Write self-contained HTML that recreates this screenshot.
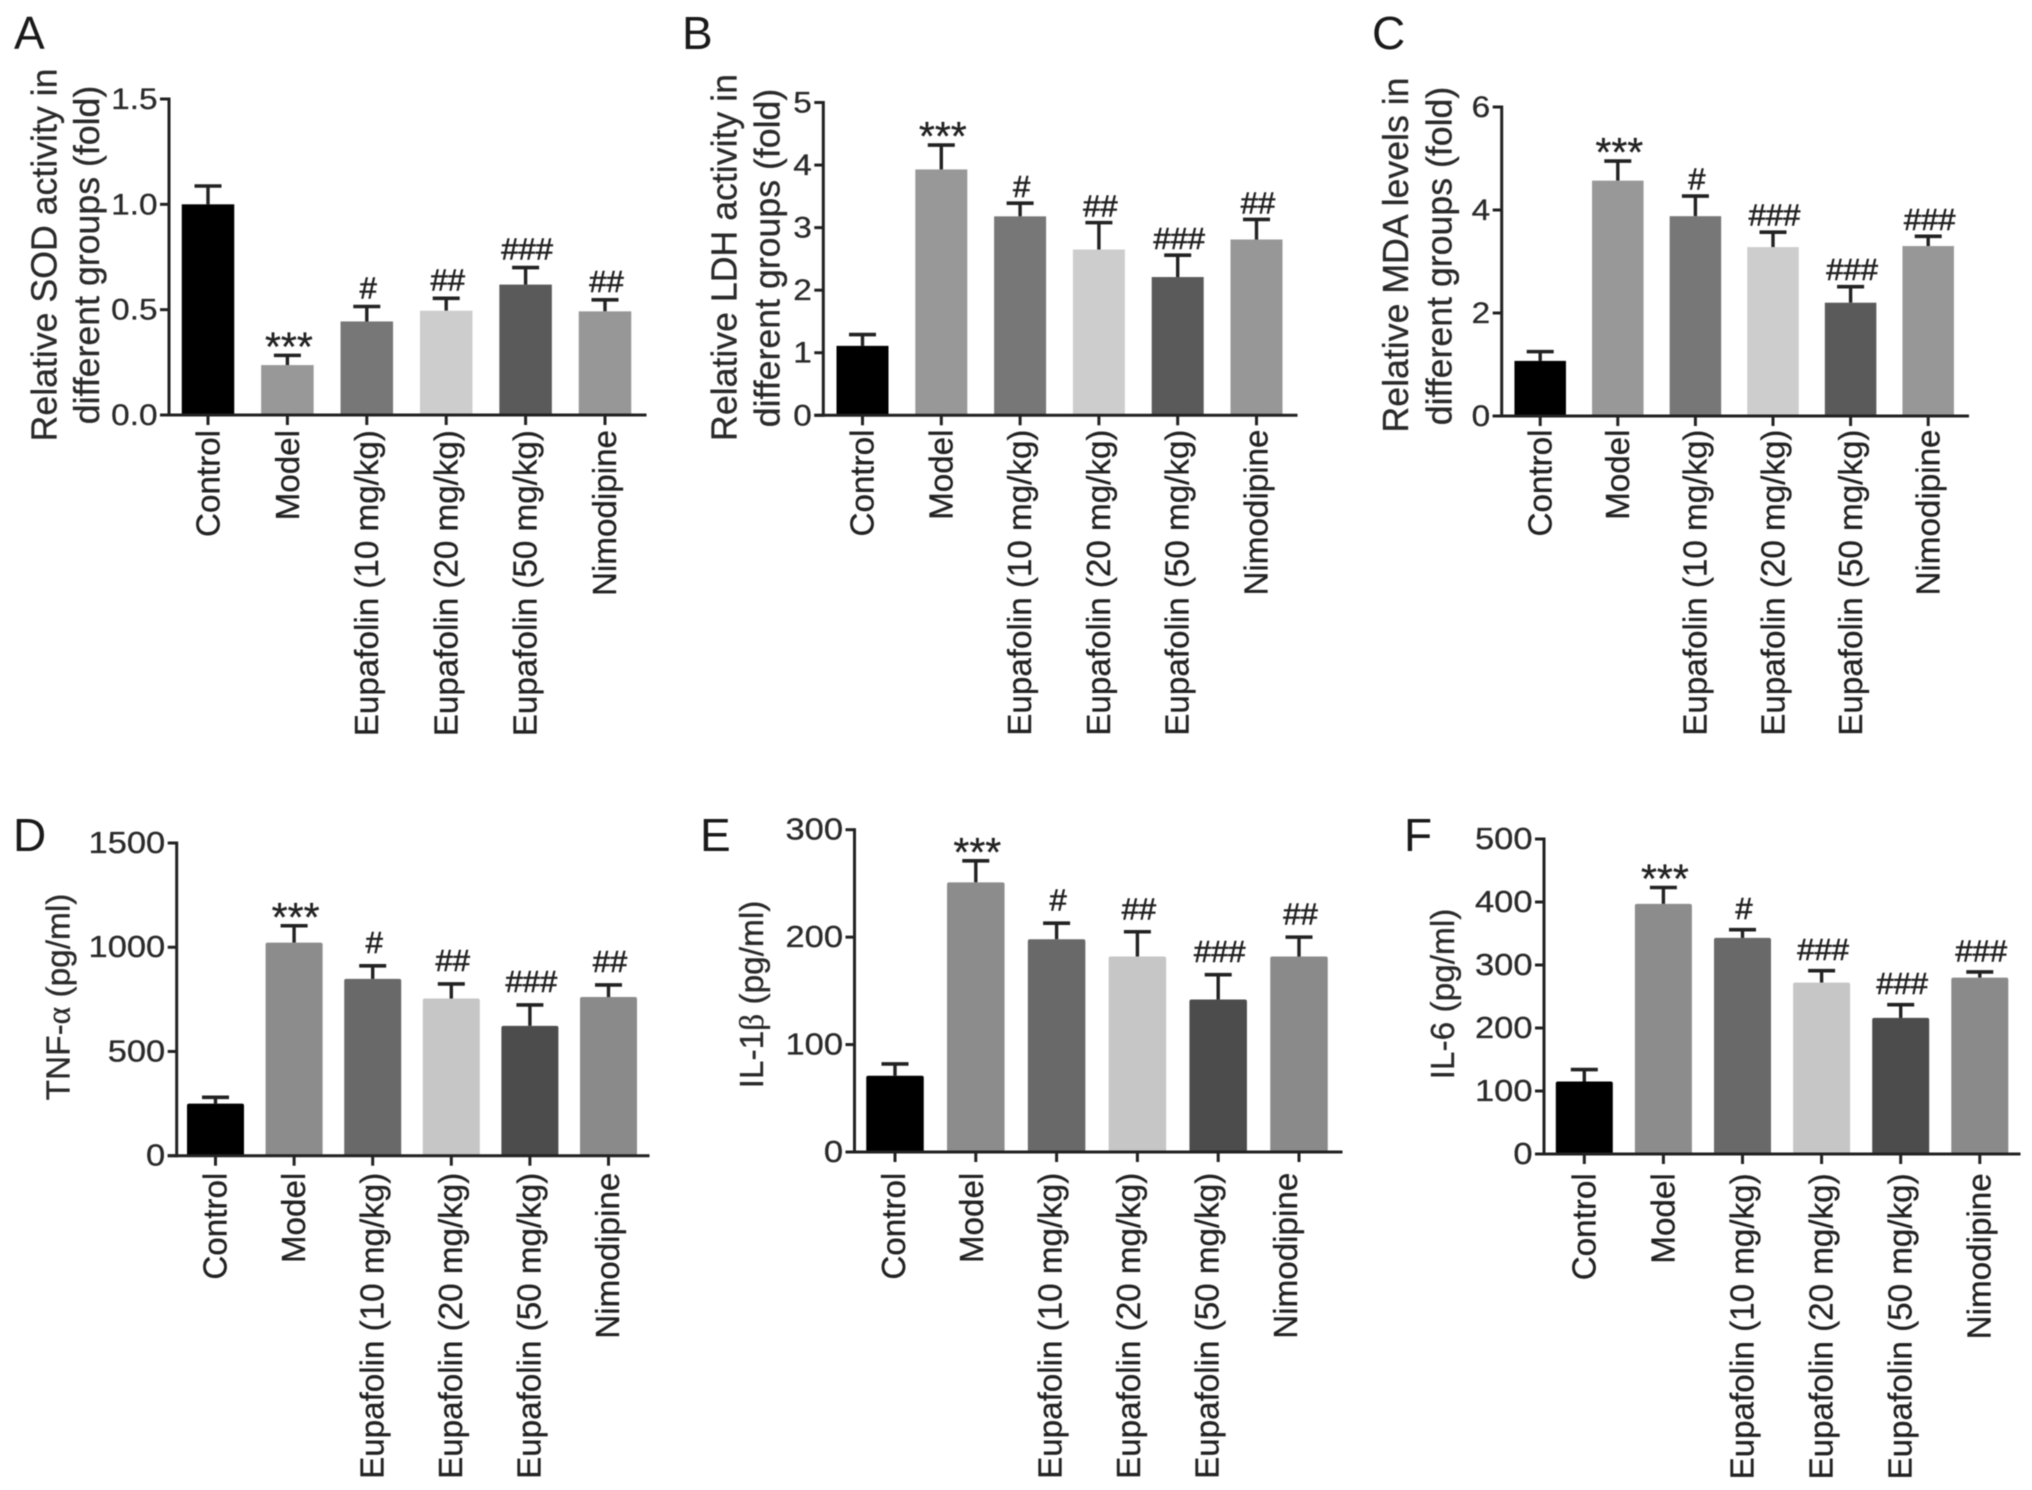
<!DOCTYPE html>
<html lang="en">
<head>
<meta charset="utf-8">
<title>Eupafolin group comparison bar charts</title>
<style>
  html, body { margin: 0; padding: 0; background: #fff; }
  svg { display: block; font-family: "Liberation Sans", Arial, sans-serif; filter: blur(0.55px); }
  .panel-letter { font-size: 46px; fill: #1a1a1a; }
  .y-title { font-size: 35.7px; fill: #2a2a2a; stroke: #2a2a2a; stroke-width: 0.3px; }
  .y-title-small { font-size: 33.4px; fill: #2a2a2a; stroke: #2a2a2a; stroke-width: 0.3px; }
  .tick-label { fill: #2a2a2a; stroke: #2a2a2a; stroke-width: 0.3px; text-anchor: end; }
  .cat-label { font-size: 33.2px; fill: #222; stroke: #222; stroke-width: 0.3px; text-anchor: end; }
  .sig-hash { font-size: 31px; fill: #222; stroke: #222; stroke-width: 0.6px; text-anchor: middle; }
  .sig-star { font-size: 41px; fill: #222; stroke: #222; stroke-width: 0.3px; text-anchor: middle; }
</style>
</head>
<body>
<svg id="figure" width="2032" height="1490" viewBox="0 0 2032 1490" xmlns="http://www.w3.org/2000/svg">
  <rect width="2032" height="1490" fill="#fff"/>

  <g id="panelA">
    <text class="panel-letter" x="14" y="49">A</text>
    <text class="y-title" transform="translate(56.5,255) rotate(-90)" text-anchor="middle">Relative SOD activity in</text>
    <text class="y-title" transform="translate(99,255) rotate(-90)" text-anchor="middle">different groups (fold)</text>
  </g>

  <g id="panelB">
    <text class="panel-letter" x="682" y="49">B</text>
    <text class="y-title" transform="translate(736.5,257.5) rotate(-90)" text-anchor="middle">Relative LDH activity in</text>
    <text class="y-title" transform="translate(779.5,258) rotate(-90)" text-anchor="middle">different groups (fold)</text>
  </g>

  <g id="panelC">
    <text class="panel-letter" x="1372" y="49">C</text>
    <text class="y-title" transform="translate(1408,255) rotate(-90)" text-anchor="middle">Relative MDA levels in</text>
    <text class="y-title" transform="translate(1451.5,256) rotate(-90)" text-anchor="middle">different groups (fold)</text>
  </g>

  <g id="panelD">
    <text class="panel-letter" x="13" y="851">D</text>
    <text class="y-title-small" transform="translate(69.5,997) rotate(-90)" text-anchor="middle">TNF-<tspan font-family="'Liberation Serif', serif">α</tspan> (pg/ml)</text>
  </g>

  <g id="panelE">
    <text class="panel-letter" x="700" y="851">E</text>
    <text class="y-title-small" transform="translate(763,994.5) rotate(-90)" text-anchor="middle">IL-1<tspan font-family="'Liberation Serif', serif">β</tspan> (pg/ml)</text>
  </g>

  <g id="panelF">
    <text class="panel-letter" x="1404" y="851">F</text>
    <text class="y-title-small" transform="translate(1454,994) rotate(-90)" text-anchor="middle">IL-6 (pg/ml)</text>
  </g>
</svg>

<script>
// ---- chart data ----
const categories = ['Control', 'Model', 'Eupafolin (10 mg/kg)', 'Eupafolin (20 mg/kg)', 'Eupafolin (50 mg/kg)', 'Nimodipine'];

const sodValues = [1.0, 0.237, 0.444, 0.495, 0.619, 0.492];
const sodErrors = [0.087, 0.046, 0.071, 0.059, 0.081, 0.055];
const sodTicks = ['0.0', '0.5', '1.0', '1.5'];
const sodMarks = ['', '***', '#', '##', '###', '##'];

const ldhValues = [1.11, 3.93, 3.18, 2.65, 2.21, 2.81];
const ldhErrors = [0.18, 0.39, 0.21, 0.43, 0.35, 0.32];
const ldhTicks = ['0', '1', '2', '3', '4', '5'];
const ldhMarks = ['', '***', '#', '##', '###', '##'];

const mdaValues = [1.07, 4.57, 3.88, 3.28, 2.2, 3.3];
const mdaErrors = [0.18, 0.38, 0.39, 0.29, 0.31, 0.19];
const mdaTicks = ['0', '2', '4', '6'];
const mdaMarks = ['', '***', '#', '###', '###', '###'];

const tnfValues = [250, 1022, 848, 754, 623, 761];
const tnfErrors = [30, 81, 63, 70, 100, 58];
const tnfTicks = ['0', '500', '1000', '1500'];
const tnfMarks = ['', '***', '#', '##', '###', '##'];

const il1bValues = [71, 251, 198, 182, 142, 182];
const il1bErrors = [11, 20, 15, 23, 23, 18];
const il1bTicks = ['0', '100', '200', '300'];
const il1bMarks = ['', '***', '#', '##', '###', '##'];

const il6Values = [115, 397, 343, 272, 216, 280];
const il6Errors = [19, 26, 13, 19, 21, 9];
const il6Ticks = ['0', '100', '200', '300', '400', '500'];
const il6Marks = ['', '***', '#', '###', '###', '###'];

// ---- styling shared per row ----
const topRowFills = ['#000000', '#989898', '#777777', '#cdcdcd', '#5a5a5a', '#979797'];
const bottomRowFills = ['#000000', '#8c8c8c', '#696969', '#c6c6c6', '#4c4c4c', '#8a8a8a'];
const INK = '#222222';
const SVG_NS = 'http://www.w3.org/2000/svg';

function shape(parent, tag, attrs, text) {
  const el = document.createElementNS(SVG_NS, tag);
  for (const k in attrs) el.setAttribute(k, attrs[k]);
  if (text !== undefined) el.textContent = text;
  parent.appendChild(el);
  return el;
}

function drawPanel(groupId, frame, fills, values, errors, ticks, marks) {
  const group = document.getElementById(groupId);
  const maxTick = Math.max.apply(null, ticks.map(Number));

  // axis functions
  const yScale = function (v) { return frame.bottom - (v / maxTick) * (frame.bottom - frame.top); };
  const xScale = function (i) { return frame.firstCenter + i * frame.pitch; };
  const labelScale = function (i) { return frame.labelFirst + i * frame.labelPitch; };

  values.forEach(function (value, i) {
    const cx = xScale(i);
    const top = yScale(value);
    const errTop = yScale(value + errors[i]);

    const stem = shape(group, 'line', { x1: cx, x2: cx, y1: top, y2: errTop, stroke: INK, 'stroke-width': 3.4 });
    
    

    const cap = shape(group, 'line', { x1: cx - 13.5, x2: cx + 13.5, y1: errTop, y2: errTop, stroke: INK, 'stroke-width': 3.6 });
    
    

    const bar = shape(group, 'rect', { x: cx - frame.barWidth / 2, y: top, width: frame.barWidth, height: frame.bottom - top, fill: fills[i], rx: frame.barRadius });
    
    

    if (marks[i]) {
      const isStar = marks[i].charAt(0) === '*';
      const markY = isStar ? errTop + 5 : errTop - frame.hashGap;
      const mark = shape(group, 'text', { x: cx + 1.5, y: markY, class: isStar ? 'sig-star' : 'sig-hash' }, marks[i]);
      
      
    }

    const xTick = shape(group, 'line', { x1: cx, x2: cx, y1: frame.bottom, y2: frame.bottom + 10, stroke: INK, 'stroke-width': 3 });
    
    

    const baseX = labelScale(i) + 11.5;
    const label = shape(group, 'text', { class: 'cat-label', transform: 'translate(' + baseX + ',' + frame.labelTop + ') rotate(-90)' }, categories[i]);
    
    
  });

  const yAxis = shape(group, 'line', { x1: frame.axisX, x2: frame.axisX, y1: frame.top - 1.5, y2: frame.bottom + 1.5, stroke: INK, 'stroke-width': 3 });
  
  

  const xAxis = shape(group, 'line', { x1: frame.axisX - 9, x2: frame.right, y1: frame.bottom, y2: frame.bottom, stroke: INK, 'stroke-width': 3 });
  
  

  ticks.forEach(function (tick) {
    const ty = yScale(Number(tick));
    const yTick = shape(group, 'line', { x1: frame.axisX - 9, x2: frame.axisX, y1: ty, y2: ty, stroke: INK, 'stroke-width': 3 });
    
    

    const tickLabel = shape(group, 'text', { class: 'tick-label', 'font-size': frame.tickFont, transform: 'translate(' + (frame.axisX - 11.5) + ',' + (ty + 10) + ') scale(1.13,1)' }, tick);
    
    
  });
}

drawPanel('panelA', { axisX: 169, top: 99, bottom: 415, right: 646.5, firstCenter: 208, pitch: 79.4, labelFirst: 208, labelPitch: 79.3, barWidth: 52.5, barRadius: 0, labelTop: 430, hashGap: 8, tickFont: 29.5 }, topRowFills, sodValues, sodErrors, sodTicks, sodMarks);
drawPanel('panelB', { axisX: 823.3, top: 102.5, bottom: 415.3, right: 1297.5, firstCenter: 862.5, pitch: 78.8, labelFirst: 862, labelPitch: 78.8, barWidth: 52, barRadius: 0, labelTop: 429.5, hashGap: 6, tickFont: 29.5 }, topRowFills, ldhValues, ldhErrors, ldhTicks, ldhMarks);
drawPanel('panelC', { axisX: 1501.7, top: 107, bottom: 416, right: 1969, firstCenter: 1540.2, pitch: 77.6, labelFirst: 1540, labelPitch: 77.6, barWidth: 51.5, barRadius: 0, labelTop: 429.5, hashGap: 6.5, tickFont: 29.5 }, topRowFills, mdaValues, mdaErrors, mdaTicks, mdaMarks);
drawPanel('panelD', { axisX: 176.7, top: 843, bottom: 1155.7, right: 649.5, firstCenter: 215.5, pitch: 78.6, labelFirst: 215, labelPitch: 78.5, barWidth: 57, barRadius: 2, labelTop: 1172.7, hashGap: 13, tickFont: 30.5 }, bottomRowFills, tnfValues, tnfErrors, tnfTicks, tnfMarks);
drawPanel('panelE', { axisX: 854.5, top: 829.7, bottom: 1152, right: 1342.5, firstCenter: 895, pitch: 80.8, labelFirst: 893.3, labelPitch: 78.4, barWidth: 57.5, barRadius: 2, labelTop: 1172.7, hashGap: 12.5, tickFont: 30.5 }, bottomRowFills, il1bValues, il1bErrors, il1bTicks, il1bMarks);
drawPanel('panelF', { axisX: 1544, top: 839, bottom: 1154, right: 2020.5, firstCenter: 1584.3, pitch: 79.1, labelFirst: 1584, labelPitch: 79, barWidth: 57, barRadius: 2, labelTop: 1173.3, hashGap: 10.5, tickFont: 30.5 }, bottomRowFills, il6Values, il6Errors, il6Ticks, il6Marks);
</script>
</body>
</html>
